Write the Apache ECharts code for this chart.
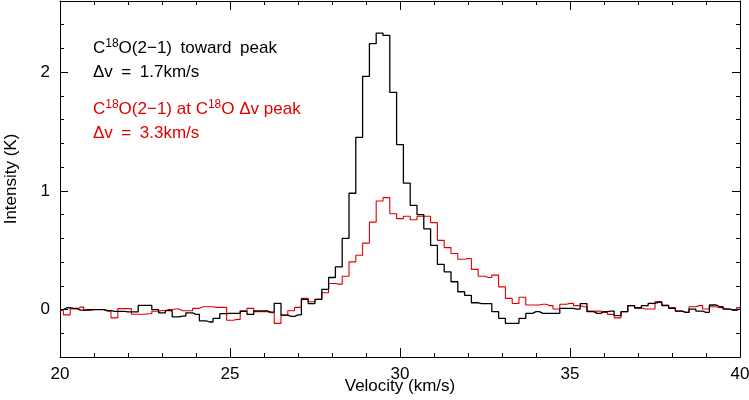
<!DOCTYPE html>
<html>
<head>
<meta charset="utf-8">
<script src="https://cdn.jsdelivr.net/npm/echarts@6/dist/echarts.min.js"></script>
<style>
	html, body { margin: 0; padding: 0; background: #fff; }
	#chart { width: 749px; height: 400px; }
</style>
</head>
<body>
<div id="chart"></div>
<script>
// channel centres, km/s
var velocity = [
	20.0, 20.2, 20.4, 20.6, 20.8, 21.0, 21.2, 21.4, 21.6, 21.8,
	22.0, 22.2, 22.4, 22.6, 22.8, 23.0, 23.2, 23.4, 23.6, 23.8,
	24.0, 24.2, 24.4, 24.6, 24.8, 25.0, 25.2, 25.4, 25.6, 25.8,
	26.0, 26.2, 26.4, 26.6, 26.8, 27.0, 27.2, 27.4, 27.6, 27.8,
	28.0, 28.2, 28.4, 28.6, 28.8, 29.0, 29.2, 29.4, 29.6, 29.8,
	30.0, 30.2, 30.4, 30.6, 30.8, 31.0, 31.2, 31.4, 31.6, 31.8,
	32.0, 32.2, 32.4, 32.6, 32.8, 33.0, 33.2, 33.4, 33.6, 33.8,
	34.0, 34.2, 34.4, 34.6, 34.8, 35.0, 35.2, 35.4, 35.6, 35.8,
	36.0, 36.2, 36.4, 36.6, 36.8, 37.0, 37.2, 37.4, 37.6, 37.8,
	38.0, 38.2, 38.4, 38.6, 38.8, 39.0, 39.2, 39.4, 39.6, 39.8,
	40.0
];

// C18O(2-1) toward peak (black)
var peakSpec = [
	0.000, 0.015, 0.010, -0.005, 0.000, 0.000, 0.000, -0.010, -0.015, -0.015,
	-0.020, -0.020, 0.035, 0.035, 0.000, -0.028, -0.010, -0.062, -0.055, -0.028,
	-0.040, -0.095, -0.105, -0.075, -0.035, -0.033, -0.033, -0.015, -0.040, -0.012,
	-0.012, -0.022, 0.052, -0.047, -0.058, -0.045, 0.085, 0.050, 0.085, 0.170,
	0.270, 0.360, 0.600, 0.980, 1.450, 1.965, 2.240, 2.330, 2.310, 1.830,
	1.390, 1.065, 0.877, 0.800, 0.680, 0.540, 0.380, 0.318, 0.234, 0.150,
	0.120, 0.057, 0.050, 0.050, -0.018, -0.074, -0.116, -0.116, -0.074, -0.033,
	-0.018, -0.033, -0.033, -0.033, 0.010, 0.010, 0.004, 0.050, -0.018, -0.033,
	-0.018, -0.013, -0.052, -0.018, 0.033, 0.013, 0.033, 0.052, 0.060, 0.033,
	0.010, -0.013, -0.024, 0.004, -0.013, -0.024, 0.038, 0.024, 0.004, -0.004,
	0.004
];

// C18O(2-1) at the dv peak (red)
var dvPeakSpec = [
	-0.008, -0.045, 0.005, 0.020, -0.008, 0.000, 0.000, -0.015, -0.070, 0.008,
	0.008, -0.040, -0.040, -0.035, -0.015, -0.008, 0.000, 0.005, -0.010, -0.010,
	0.010, 0.024, 0.024, 0.018, 0.018, -0.090, -0.083, -0.010, 0.010, -0.018,
	-0.018, -0.027, -0.117, -0.047, -0.010, 0.018, 0.094, 0.066, 0.086, 0.141,
	0.220, 0.214, 0.281, 0.402, 0.458, 0.560, 0.737, 0.914, 0.943, 0.807,
	0.766, 0.786, 0.757, 0.786, 0.786, 0.732, 0.583, 0.522, 0.472, 0.424,
	0.430, 0.338, 0.281, 0.270, 0.290, 0.191, 0.094, 0.051, 0.103, 0.038,
	0.038, 0.044, 0.033, 0.004, 0.044, 0.052, 0.033, 0.024, -0.013, -0.013,
	-0.024, -0.041, -0.070, -0.018, 0.033, 0.016, 0.004, 0.004, 0.067, 0.038,
	0.016, -0.013, -0.024, 0.024, 0.033, 0.004, 0.024, 0.016, 0.004, -0.004,
	0.016
];

var yMajor = [0, 1, 2];

var FONT = '"Liberation Sans", Arial, sans-serif';
var RED = '#e00000';
var SP = '\u2002'; // wider gap, like the plot's own text

function pairs(ys){
	return velocity.map(function(v, i){ return [v, ys[i]]; });
}

function xAx(pos, step, len, labels){
	return {
		type: 'value', min: 20, max: 40, interval: step, position: pos,
		axisLine: { show: len < 6, onZero: false, lineStyle: { color: '#000', width: 1 } },
		axisTick: { inside: true, length: len, lineStyle: { color: '#000', width: 1 } },
		axisLabel: labels ? {
			show: true, color: '#000', fontSize: 17, fontFamily: FONT, margin: 9,
			formatter: function(v){ return v % 5 === 0 ? String(v) : ''; }
		} : { show: false },
		splitLine: { show: false },
		name: labels ? 'Velocity (km/s)' : '',
		nameLocation: 'middle', nameGap: 21, nameMoveOverlap: false,
		nameTextStyle: { color: '#000', fontSize: 17, fontFamily: FONT }
	};
}

function yAx(pos, major, labels){
	var ax = {
		type: 'value', min: -0.4, max: 2.6, position: pos,
		axisLine: { show: !major, onZero: false, lineStyle: { color: '#000', width: 1 } },
		axisTick: { inside: true, length: major ? 8 : 4, lineStyle: { color: '#000', width: 1 } },
		axisLabel: { show: false },
		splitLine: { show: false }
	};
	if(major){
		ax.axisTick.customValues = yMajor;
		if(labels){
			ax.axisLabel = { show: true, customValues: yMajor, color: '#000', fontSize: 17, fontFamily: FONT, margin: 10 };
			ax.name = 'Intensity (K)';
			ax.nameLocation = 'middle';
			ax.nameGap = 40;
			ax.nameMoveOverlap = false;
			ax.nameTextStyle = { color: '#000', fontSize: 17, fontFamily: FONT };
		}
	} else {
		ax.interval = 0.2;
	}
	return ax;
}

var chart = echarts.init(document.getElementById('chart'), null, { renderer: 'canvas' });

var sub = { fontSize: 12, fontFamily: FONT, verticalAlign: 'top', lineHeight: 12 };

function label(x, y, txt, color){
	return {
		type: 'text', x: x, y: y, z: 100,
		style: {
			text: txt, fill: color, fontSize: 17, fontFamily: FONT,
			rich: {
				n: { fontSize: 17, fontFamily: FONT, fill: color, lineHeight: 20 },
				s: Object.assign({ fill: color }, sub)
			}
		}
	};
}

chart.setOption({
	animation: false,
	backgroundColor: '#fff',
	grid: { left: 60, right: 9, top: 1, bottom: 43, containLabel: false, outerBoundsMode: 'none' },
	xAxis: [ xAx('bottom', 1, 4, true), xAx('bottom', 5, 9, false), xAx('top', 1, 4, false), xAx('top', 5, 9, false) ],
	yAxis: [ yAx('left', false), yAx('left', true, true), yAx('right', false), yAx('right', true, false) ],
	series: [
		{
			name: 'toward peak', type: 'line', step: 'middle', data: pairs(peakSpec),
			showSymbol: false, symbol: 'none', clip: true,
			lineStyle: { color: '#000', width: 1.3 }, z: 3
		},
		{
			name: 'dv peak', type: 'line', step: 'middle', data: pairs(dvPeakSpec),
			showSymbol: false, symbol: 'none', clip: true,
			lineStyle: { color: RED, width: 1.1 }, z: 2
		}
	],
	graphic: [
		label(93, 38, '{n|C}{s|18}{n|O(2\u22121)' + SP + 'toward' + SP + 'peak}', '#000'),
		label(93, 62, '{n|\u0394v' + SP + '=' + SP + '1.7km/s}', '#000'),
		label(93, 99, '{n|C}{s|18}{n|O(2\u22121) at C}{s|18}{n|O \u0394v peak}', RED),
		label(93, 123, '{n|\u0394v' + SP + '=' + SP + '3.3km/s}', RED)
	]
});
</script>
</body>
</html>
